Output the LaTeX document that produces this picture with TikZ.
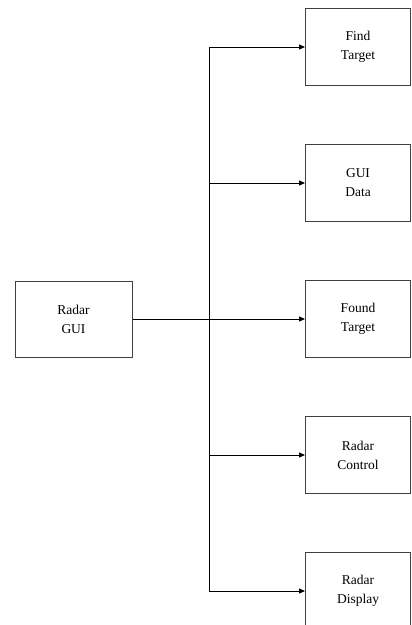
\documentclass[tikz,border=0pt]{standalone}
\usepackage{fontspec}
\setmainfont{Liberation Serif}
\usetikzlibrary{arrows.meta}
\begin{document}
\begin{tikzpicture}[x=1pt,y=-1pt,
  blockbox/.style={draw=black!75, line width=1pt, fill=white, align=center,
    font=\fontsize{13.5}{19}\selectfont, inner sep=0pt},
  link/.style={draw=black, line width=0.9pt},
  arrowlink/.style={link, -{Triangle[length=6pt,width=5pt]}}]
  \useasboundingbox (0,0) rectangle (412,625);
  \fill[white] (0,0) rectangle (412,625);

  % source block
  \node[blockbox, minimum width=117pt, minimum height=76pt] (gui) at (73.5,319) {Radar\\GUI};

  % target blocks
  \foreach \nm/\txt/\yy in {find/{Find\\Target}/47, data/{GUI\\Data}/183,
      found/{Found\\Target}/319, ctrl/{Radar\\Control}/455, disp/{Radar\\Display}/591} {
    \node[blockbox, minimum width=105pt, minimum height=77pt, anchor=west] (\nm) at (305,\yy) {\txt};
  }

  % bus junction points
  \coordinate (bus) at (209,319);
  \coordinate (bustop) at (209,47);
  \coordinate (busbot) at (209,591);
  \coordinate (b1) at (209,183);
  \coordinate (b2) at (209,455);

  \draw[link] (gui.east) -- (bus);
  \draw[link] (busbot) -- (bustop);
  \draw[arrowlink] (bustop) -- (find.west);
  \draw[arrowlink] (b1) -- (data.west);
  \draw[arrowlink] (bus) -- (found.west);
  \draw[arrowlink] (b2) -- (ctrl.west);
  \draw[arrowlink] (busbot) -- (disp.west);
\end{tikzpicture}
\end{document}
